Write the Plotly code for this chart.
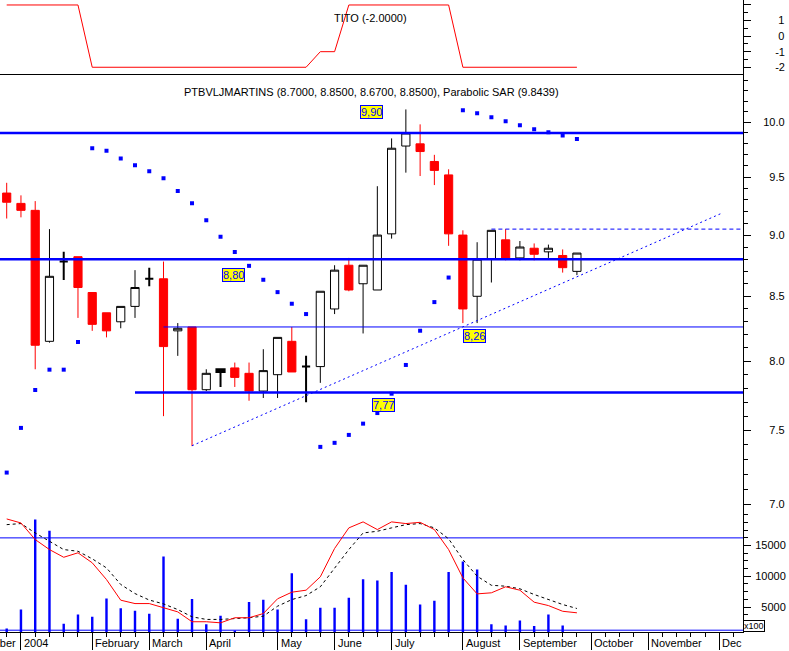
import numpy as np
import plotly.graph_objects as go

# ---------------- data ----------------
weeks = list(range(41))
price_open = [9.36, 9.27, 9.21, 8.15, 8.78, 8.82, 8.53, 8.37, 8.30, 8.42,
              8.64, 8.64, 8.23, 8.26, 7.79, 7.94, 7.95, 7.91, 7.78, 7.90,
              8.15, 7.96, 7.96, 8.40, 8.75, 8.60, 8.55, 9.01, 9.78, 9.80,
              9.64, 9.52, 9.00, 8.50, 8.80, 8.96, 8.81, 8.89, 8.86, 8.83, 8.70]
price_high = [9.45, 9.34, 9.29, 9.05, 8.86, 8.82, 8.53, 8.37, 8.42, 8.71,
              8.73, 8.78, 8.29, 8.26, 7.94, 7.94, 7.99, 7.99, 8.09, 8.18,
              8.26, 8.04, 8.54, 8.75, 8.81, 8.75, 9.42, 9.85, 10.12, 9.98,
              9.70, 9.57, 9.04, 8.94, 9.04, 9.05, 8.95, 8.93, 8.92, 8.88, 8.85]
price_low = [9.14, 9.15, 7.94, 8.14, 8.63, 8.33, 8.23, 8.18, 8.25, 8.33,
             8.58, 7.60, 8.04, 7.39, 7.78, 7.81, 7.81, 7.71, 7.73, 7.73,
             7.92, 7.70, 7.84, 8.36, 8.54, 8.21, 8.55, 8.97, 9.54, 9.51,
             9.43, 8.91, 8.29, 8.29, 8.61, 8.79, 8.79, 8.79, 8.81, 8.69, 8.67]
price_close = [9.28, 9.21, 8.12, 8.66, 8.78, 8.57, 8.28, 8.23, 8.42, 8.57,
               8.64, 8.11, 8.25, 7.79, 7.91, 7.92, 7.88, 7.78, 7.93, 8.18,
               7.92, 7.96, 8.54, 8.71, 8.55, 8.75, 9.00, 9.76, 9.90, 9.73,
               9.56, 9.01, 8.40, 8.80, 9.04, 8.81, 8.90, 8.84, 8.89, 8.73, 8.85]
doji_weeks = [4, 10, 15, 21]

sar = [7.210, 7.517, 7.788, 7.937, 7.937, 8.145, 9.760, 9.736, 9.666, 9.607,
       9.553, 9.491, 9.379, 9.272, 9.126, 8.985, 8.858, 8.745, 8.632, 8.533,
       8.441, 8.360, 7.385, 7.413, 7.468, 7.547, 7.622, 7.761, 7.972, 8.231,
       8.454, 8.650, 10.113, 10.084, 10.047, 10.009, 9.972, 9.935, 9.907, 9.876, 9.8439]

tito = [2, 2, 2, 2, 2, 2, -2, -2, -2, -2, -2, -2, -2, -2, -2, -2, -2, -2, -2, -2,
        -2, -2, -1, -1, 2, 2, 2, 2, 2, 2, 2, 2, -2, -2, -2, -2, -2, -2, -2, -2, -2]

volume = [1500, 4600, 19200, 17400, 2300, 3800, 3400, 6400, 4800, 4400,
          3900, 13200, 3100, 6300, 2200, 3600, 1200, 5800, 6200, 4600,
          10500, 3000, 4900, 4900, 6500, 9500, 9300, 10700, 8600, 5400,
          6000, 10700, 12400, 11100, 2200, 2000, 2800, 1900, 3800, 2000, 0]

osc_fast = [92.3, 89.7, 78.9, 72.4, 67.4, 70.3, 63.8, 52.9, 39.5, 37.3,
            37.3, 34.5, 31.9, 25.5, 25.5, 24.8, 28.1, 28.1, 30.8, 40.4,
            44.7, 46.0, 54.7, 73.1, 86.5, 90.4, 85.4, 90.4, 89.3, 90.1,
            85.4, 72.4, 54.0, 43.6, 44.3, 48.2, 46.0, 38.2, 36.0, 32.3, 31.3]
osc_slow = [88.6, 89.3, 83.2, 77.8, 72.4, 71.3, 66.4, 60.5, 49.7, 43.8,
            39.6, 37.1, 33.4, 28.7, 27.0, 27.0, 27.4, 28.1, 29.1, 35.6,
            39.9, 42.5, 48.2, 60.5, 72.4, 83.2, 84.3, 86.5, 88.6, 89.3,
            86.5, 79.4, 65.9, 55.1, 49.2, 48.6, 46.9, 43.2, 39.9, 36.7, 34.1]
osc_levels = [80, 20]

full_levels = [9.90, 8.80]
level_777 = 7.77
level_777_start = 9
level_826 = 8.26
level_826_start = 11
level_905 = 9.05
level_905_start = 34
trend_weeks = [13, 50.06]
trend_prices = [7.393, 9.18]

price_ticks = [7.0, 7.5, 8.0, 8.5, 9.0, 9.5, 10.0]
volume_ticks = [5000, 10000, 15000]
tito_ticks = [-2, -1, 0, 1, 2]
month_weeks = [1, 6, 10, 14, 19, 23, 27, 32, 36, 41, 45, 50]
month_names = ["2004", "February", "March", "April", "May", "June", "July",
               "August", "September", "October", "November", "Dec"]

# ---------------- figure ----------------
X0, X1 = -0.47, 51.65
D1, D2 = 0.19051, 0.88300
BLUE = "#0000FF"
RED = "#FF0000"
FONT = "Liberation Sans, Arial, sans-serif"
NB = "\u00a0"

fig = go.Figure()

# volume
fig.add_trace(go.Bar(x=weeks, y=volume, width=0.17, marker=dict(color=BLUE, line=dict(width=0)),
                     xaxis="x", yaxis="y", hoverinfo="skip", showlegend=False))
# oscillator
for lv in osc_levels:
    fig.add_trace(go.Scatter(x=[X0, X1], y=[lv, lv], mode="lines", line=dict(color=BLUE, width=1),
                             xaxis="x", yaxis="y4", hoverinfo="skip", showlegend=False))
fig.add_trace(go.Scatter(x=weeks, y=osc_slow, mode="lines", line=dict(color="black", width=1, dash="dot"),
                         xaxis="x", yaxis="y4", hoverinfo="skip", showlegend=False))
fig.add_trace(go.Scatter(x=weeks, y=osc_fast, mode="lines", line=dict(color=RED, width=1),
                         xaxis="x", yaxis="y4", hoverinfo="skip", showlegend=False))

# candles
norm = [i for i in weeks if i not in doji_weeks]
fig.add_trace(go.Candlestick(
    x=norm, open=[price_open[i] for i in norm], high=[price_high[i] for i in norm],
    low=[price_low[i] for i in norm], close=[price_close[i] for i in norm],
    increasing=dict(line=dict(color="black", width=1), fillcolor="white"),
    decreasing=dict(line=dict(color=RED, width=1), fillcolor=RED),
    whiskerwidth=0, xaxis="x2", yaxis="y2", hoverinfo="skip", showlegend=False))
fig.add_trace(go.Candlestick(
    x=doji_weeks, open=[price_open[i] for i in doji_weeks], high=[price_high[i] for i in doji_weeks],
    low=[price_low[i] for i in doji_weeks], close=[price_close[i] for i in doji_weeks],
    increasing=dict(line=dict(color="black", width=2), fillcolor="black"),
    decreasing=dict(line=dict(color="black", width=2), fillcolor="black"),
    whiskerwidth=0, xaxis="x2", yaxis="y2", hoverinfo="skip", showlegend=False))

# price levels
for lv in full_levels:
    fig.add_trace(go.Scatter(x=[X0, X1], y=[lv, lv], mode="lines", line=dict(color=BLUE, width=2.5),
                             xaxis="x2", yaxis="y2", hoverinfo="skip", showlegend=False))
fig.add_trace(go.Scatter(x=[level_777_start, X1], y=[level_777, level_777], mode="lines",
                         line=dict(color=BLUE, width=2.5), xaxis="x2", yaxis="y2",
                         hoverinfo="skip", showlegend=False))
fig.add_trace(go.Scatter(x=[level_826_start, X1], y=[level_826, level_826], mode="lines",
                         line=dict(color=BLUE, width=1), xaxis="x2", yaxis="y2",
                         hoverinfo="skip", showlegend=False))
fig.add_trace(go.Scatter(x=[level_905_start, X1], y=[level_905, level_905], mode="lines",
                         line=dict(color=BLUE, width=1, dash="4px,3px"), xaxis="x2", yaxis="y2",
                         hoverinfo="skip", showlegend=False))
fig.add_trace(go.Scatter(x=trend_weeks, y=trend_prices, mode="lines",
                         line=dict(color=BLUE, width=1, dash="2px,3px"), xaxis="x2", yaxis="y2",
                         hoverinfo="skip", showlegend=False))
# parabolic SAR
fig.add_trace(go.Scatter(x=weeks, y=sar, mode="markers",
                         marker=dict(symbol="square", size=4, color=BLUE, line=dict(width=0)),
                         xaxis="x2", yaxis="y2", hoverinfo="skip", showlegend=False))
# TITO
fig.add_trace(go.Scatter(x=weeks, y=tito, mode="lines", line=dict(color=RED, width=1),
                         xaxis="x3", yaxis="y3", hoverinfo="skip", showlegend=False))

annotations = []
# month labels
annotations.append(dict(x=month_weeks[0], y=0, xref="x", yref="paper", text="December",
                        xanchor="right", yanchor="top", xshift=-2.5, yshift=-3, showarrow=False,
                        font=dict(family=FONT, size=11, color="black")))
for w, name in zip(month_weeks, month_names):
    annotations.append(dict(x=w, y=0, xref="x", yref="paper", text=name, xanchor="left",
                            yanchor="top", xshift=1, yshift=-3, showarrow=False,
                            font=dict(family=FONT, size=11, color="black")))
# titles
annotations.append(dict(x=0.4995, y=0.8672, xref="paper", yref="paper",
                        text="PTBVLJMARTINS (8.7000, 8.8500, 8.6700, 8.8500), Parabolic SAR (9.8439)",
                        showarrow=False, font=dict(family=FONT, size=11, color="black")))
annotations.append(dict(x=0.4982, y=0.9842, xref="paper", yref="paper", text="TITO (-2.0000)",
                        showarrow=False, font=dict(family=FONT, size=11, color="black")))
# level labels
for txt, xx, yy in [("9,90", 25.6, 10.10), ("8,80", 15.94, 8.672),
                    ("7,77", 26.43, 7.680), ("8,26", 32.83, 8.187)]:
    annotations.append(dict(x=xx, y=np.log10(yy), xref="x2", yref="y2", text=txt, showarrow=False,
                            font=dict(family=FONT, size=11, color=BLUE), bgcolor="#FFFF00",
                            bordercolor=BLUE, borderwidth=1, borderpad=0))
# x100 box
annotations.append(dict(x=1, y=0, xref="paper", yref="paper", text="x100", xanchor="left",
                        yanchor="bottom", showarrow=False, bgcolor="white", bordercolor="black",
                        borderwidth=1, borderpad=0, font=dict(family=FONT, size=9, color="black")))

minor_price = [round(v, 1) for v in np.arange(6.9, 10.5, 0.1)]

common_y = dict(showgrid=False, zeroline=False, showline=True, linecolor="black", linewidth=1,
                ticks="outside", tickcolor="black", tickwidth=1, side="right",
                tickfont=dict(family=FONT, size=11, color="black"))

fig.update_layout(
    width=789, height=651,
    margin=dict(l=0, r=46.3, t=0, b=18.5),
    paper_bgcolor="white", plot_bgcolor="white",
    boxgap=0.18,
    showlegend=False,
    xaxis=dict(domain=[0, 1], anchor="y", range=[X0, X1], showgrid=False, zeroline=False,
               showline=True, linecolor="black", linewidth=1, ticks="outside",
               tickvals=month_weeks, ticklen=17, tickcolor="black", tickwidth=1,
               showticklabels=False,
               minor=dict(ticks="outside", tick0=0, dtick=1, ticklen=4, tickcolor="black", tickwidth=1),
               rangeslider=dict(visible=False)),
    xaxis2=dict(matches="x", anchor="y2", showgrid=False, zeroline=False, showline=False,
                ticks="", showticklabels=False, rangeslider=dict(visible=False)),
    xaxis3=dict(matches="x", anchor="y3", showgrid=False, zeroline=False, showline=True,
                linecolor="black", linewidth=1, ticks="", showticklabels=False,
                rangeslider=dict(visible=False)),
    yaxis=dict(domain=[0, D1], anchor="x", range=[941, 20498], tickvals=volume_ticks,
               ticktext=[NB + NB + "5000", "10000", "15000"], ticklen=7, ticklabelstandoff=2,
               minor=dict(ticks="outside", tick0=0, dtick=1250, ticklen=3.5, tickcolor="black"),
               **common_y),
    yaxis4=dict(overlaying="y", anchor="x", range=[18.83, 97.08], visible=False),
    yaxis2=dict(domain=[D1, D2], anchor="x2", type="log",
                range=[np.log10(6.952), np.log10(10.461)],
                tickvals=price_ticks, ticktext=[NB + NB + f"{v:.1f}" if v < 10 else f"{v:.1f}" for v in price_ticks],
                ticklen=7, ticklabelstandoff=10,
                minor=dict(ticks="outside", tickmode="array", tickvals=minor_price, ticklen=4,
                           tickcolor="black"),
                **common_y),
    yaxis3=dict(domain=[D2, 1], anchor="x3", range=[-2.43, 2.32], tickvals=tito_ticks,
                ticktext=["-2", "-1", NB + "0", NB + "1", ""], ticklen=7, ticklabelstandoff=22,
                minor=dict(ticks="outside", tick0=0, dtick=0.5, ticklen=4, tickcolor="black"),
                **common_y),
    annotations=annotations,
)

fig.write_html("out.html", config={"displayModeBar": False},
               post_script="document.body.style.margin='0px';")
